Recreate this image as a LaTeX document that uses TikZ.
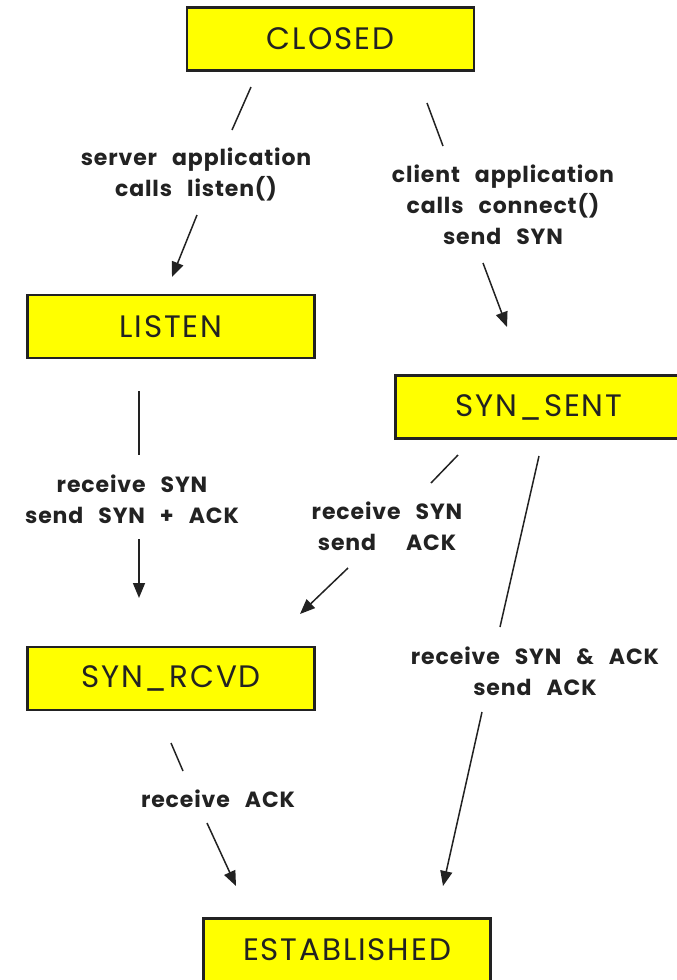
\documentclass[tikz,border=0pt]{standalone}
\usepackage{fontspec}
\setmainfont{Poppins}
\newfontfamily\boxfont[LetterSpace=6]{Poppins}
\newfontfamily\lblfont[LetterSpace=4]{Poppins}
\newcommand\lblsetup{\lblfont\bfseries\fontsize{22}{31}\selectfont\spaceskip=15pt plus 1pt minus 1pt\relax}
\usetikzlibrary{arrows.meta}
\definecolor{boxyellow}{HTML}{FFFF00}
\definecolor{ink}{HTML}{222222}
\tikzset{
  statebox/.style={draw=ink, line width=2.4pt, fill=boxyellow, minimum width=287pt, minimum height=63pt, inner sep=0pt, font=\boxfont\fontsize{31}{34}\selectfont, text=ink},
  lbl/.style={align=center, font=\lblsetup, text=ink, inner sep=0pt},
  seg/.style={draw=ink, line width=1.5pt},
  arr/.style={draw=ink, line width=1.5pt, -{Triangle[length=15pt,width=12pt]}}
}
\begin{document}
\begin{tikzpicture}[x=1pt,y=-1pt]
\useasboundingbox (0,0) rectangle (677,980);
\node[statebox] (closed) at (330.5,39) {CLOSED};
\node[statebox] (listen) at (171,326.5) {LISTEN};
\node[statebox] (synsent) at (539,407) {SYN\_SENT};
\node[statebox] (synrcvd) at (171,678.5) {SYN\_RCVD};
\node[statebox] (est) at (347,950) {ESTABLISHED};

\node[lbl] (l1) at (196,174) {server application\\calls listen()};
\node[lbl] (l2) at (503,205) {client application\\calls connect()\\send SYN};
\node[lbl] (l3) at (132,499) {receive SYN\\send SYN + ACK};
\node[lbl] (l4) at (387,526) {receive SYN\\send\ \ ACK};
\node[lbl] (l5) at (535,671) {receive SYN \& ACK\\send ACK};
\node[lbl] (l6) at (218,799) {receive ACK};

\coordinate (a1s) at (251,87);  \coordinate (a1m) at (232,130);
\coordinate (a1n) at (197,215); \coordinate (a1e) at (172,277);
\coordinate (a2s) at (427,103); \coordinate (a2m) at (443,146);
\coordinate (a2n) at (483,263); \coordinate (a2e) at (507,327);
\coordinate (a3s) at (139,391); \coordinate (a3m) at (139,455);
\coordinate (a3n) at (139,539); \coordinate (a3e) at (139,598);
\coordinate (a4s) at (458,455); \coordinate (a4m) at (431,483);
\coordinate (a4n) at (348,568); \coordinate (a4e) at (300,614);
\coordinate (a5s) at (539,456); \coordinate (a5m) at (500,627);
\coordinate (a5n) at (482,712); \coordinate (a5e) at (443,886);
\coordinate (a6s) at (171,743); \coordinate (a6m) at (183,771);
\coordinate (a6n) at (207,823); \coordinate (a6e) at (236,886);

\draw[seg] (a1s) -- (a1m); \draw[arr] (a1n) -- (a1e);
\draw[seg] (a2s) -- (a2m); \draw[arr] (a2n) -- (a2e);
\draw[seg] (a3s) -- (a3m); \draw[arr] (a3n) -- (a3e);
\draw[seg] (a4s) -- (a4m); \draw[arr] (a4n) -- (a4e);
\draw[seg] (a5s) -- (a5m); \draw[arr] (a5n) -- (a5e);
\draw[seg] (a6s) -- (a6m); \draw[arr] (a6n) -- (a6e);
\end{tikzpicture}
\end{document}
